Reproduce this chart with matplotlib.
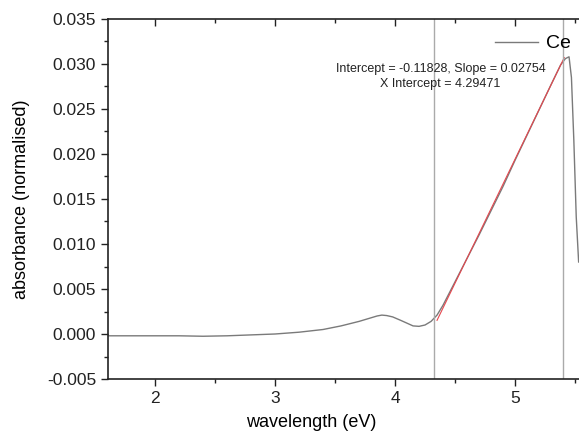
import matplotlib.pyplot as plt
from matplotlib.ticker import MultipleLocator
import numpy as np

plt.rcParams['font.family'] = ['Liberation Sans', 'DejaVu Sans']

# Absorbance spectrum
energy = [1.60, 1.80, 2.00, 2.20, 2.40, 2.60, 2.80, 3.00, 3.20, 3.40, 3.55,
          3.70, 3.80, 3.85, 3.89, 3.93, 3.98, 4.05, 4.10, 4.15, 4.20, 4.25,
          4.30, 4.35, 4.40, 4.50, 4.60, 4.70, 4.80, 4.90, 5.00, 5.10, 5.20,
          5.30, 5.38, 5.42, 5.45, 5.47, 5.49, 5.51, 5.53]
absorb = [-0.0002, -0.0002, -0.0002, -0.0002, -0.00025, -0.0002, -0.0001,
          0.0000, 0.0002, 0.0005, 0.0009, 0.0014, 0.0018, 0.0020, 0.0021,
          0.00205, 0.0019, 0.0015, 0.0012, 0.0009, 0.00085, 0.0010, 0.0014,
          0.0021, 0.0032, 0.0058, 0.0084, 0.0110, 0.0137, 0.0164, 0.0193,
          0.0221, 0.0249, 0.0277, 0.0299, 0.0306, 0.0308, 0.0285, 0.0215,
          0.0130, 0.0080]

# Linear fit of the absorption edge
fit_intercept = -0.11828
fit_slope = 0.02754
fit_range = [4.35, 5.41]
x_intercept = 4.29471
fit_bounds = [4.325, 5.40]   # vertical markers of the fitted window

fig = plt.figure(figsize=(5.79, 4.32), dpi=100)
ax = fig.add_axes([108 / 579, 53 / 432, 471 / 579, 360 / 432])

ax.plot(energy, absorb, color='#7a7a7a', lw=1.0, label='Ce')
fx = np.array(fit_range)
ax.plot(fx, fit_intercept + fit_slope * fx, color='#e5484f', lw=0.8)
for xv in fit_bounds:
    ax.axvline(xv, color='#aaaaaa', lw=1.0)

ax.text(4.38, 0.0286, 'Intercept = %.5f, Slope = %.5f\nX Intercept = %.5f'
        % (fit_intercept, fit_slope, x_intercept),
        ha='center', va='center', fontsize=9, color='#222222', linespacing=1.3)

ax.set_xlim(1.608, 5.533)
ax.set_ylim(-0.005, 0.035)
ax.xaxis.set_major_locator(MultipleLocator(1))
ax.xaxis.set_minor_locator(MultipleLocator(0.5))
ax.yaxis.set_major_locator(MultipleLocator(0.005))
ax.yaxis.set_minor_locator(MultipleLocator(0.0025))
ax.yaxis.set_major_formatter(plt.FormatStrFormatter('%.3f'))

ax.tick_params(which='both', direction='out', labelsize=12.5, width=1.0,
               colors='#222222')
ax.tick_params(which='major', length=5)
ax.tick_params(which='minor', length=3)
ax.tick_params(which='both', top=True, right=True,
               labeltop=False, labelright=False)
for t in ax.xaxis.get_major_ticks() + ax.xaxis.get_minor_ticks():
    t.tick2line.set_marker(3)  # inward on top
for sp in ax.spines.values():
    sp.set_linewidth(1.2)
    sp.set_color('#222222')
ax.spines['right'].set_visible(False)

ax.set_xlabel('wavelength (eV)', fontsize=13)
ax.xaxis.set_label_coords(0.431, -0.096)
ax.set_ylabel('absorbance (normalised)', fontsize=13)
ax.yaxis.set_label_coords(-0.166, 0.5)

ax.legend(loc='upper right', bbox_to_anchor=(1.02, 1.005), frameon=False,
          fontsize=14, handlelength=2.2, handletextpad=0.4)

fig.savefig('out.png', dpi=100)
